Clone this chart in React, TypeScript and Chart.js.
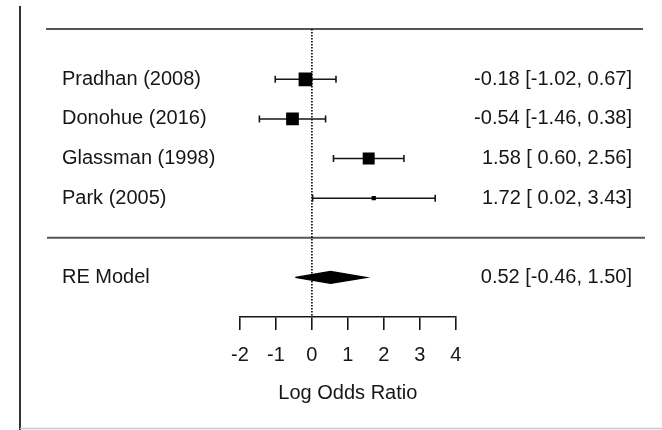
import React, { useEffect, useRef } from 'react';
import { Chart, registerables } from 'chart.js';

Chart.register(...registerables);

// ---- data ----
const studies = ['Pradhan (2008)', 'Donohue (2016)', 'Glassman (1998)', 'Park (2005)'];
const estimates = [-0.18, -0.54, 1.58, 1.72];
const lowers = [-1.02, -1.46, 0.6, 0.02];
const uppers = [0.67, 0.38, 2.56, 3.43];
const weights = [28.6, 27.5, 26.6, 17.3];
const studyRows = [1, 2, 3, 4];

const summaryLabel = 'RE Model';
const summaryEstimate = 0.52;
const summaryLower = -0.46;
const summaryUpper = 1.5;
const summaryRow = 6;
const separatorRow = 5;

const xTicks = [-2, -1, 0, 1, 2, 3, 4];
const xTitle = 'Log Odds Ratio';
const Y_TOP = -0.27;
const Y_AXIS = 7;

// ---- styles ----
const FONT = "'Liberation Sans', Arial, Helvetica, sans-serif";
const INK = '#161616';
const DIAMOND_HALF = 0.15;

const fmt = (est: number, lo: number, hi: number) =>
  `${est.toFixed(2)} [${lo >= 0 ? ' ' : ''}${lo.toFixed(2)}, ${hi.toFixed(2)}]`;

const minW = Math.min(...weights);
const maxW = Math.max(...weights);
const squareRadius = weights.map((w) => {
  const psize = 0.45 + (w - minW) / (maxW - minW);
  return (psize * 9.4) / Math.SQRT2;
});

const decorPlugin = {
  id: 'forestDecor',
  beforeDatasetsDraw(chart: any) {
    const ctx = chart.ctx;
    const y = chart.scales.y;
    ctx.save();
    // frame pieces of the screenshot
    ctx.strokeStyle = '#333';
    ctx.lineWidth = 2;
    ctx.beginPath();
    ctx.moveTo(20, 6);
    ctx.lineTo(20, 430);
    ctx.stroke();
    ctx.strokeStyle = '#c8c8c8';
    ctx.lineWidth = 1.5;
    ctx.beginPath();
    ctx.moveTo(20, 428.5);
    ctx.lineTo(662, 428.5);
    ctx.stroke();
    // horizontal rules
    ctx.strokeStyle = '#555';
    ctx.lineWidth = 2;
    const topY = y.getPixelForValue(Y_TOP);
    const sepY = y.getPixelForValue(separatorRow);
    ctx.beginPath();
    ctx.moveTo(46, topY);
    ctx.lineTo(643, topY);
    ctx.moveTo(47, sepY);
    ctx.lineTo(645, sepY);
    ctx.stroke();
    ctx.restore();
  },
  afterDraw(chart: any) {
    const ctx = chart.ctx;
    const y = chart.scales.y;
    ctx.save();
    ctx.fillStyle = INK;
    ctx.font = `20px ${FONT}`;
    ctx.textBaseline = 'middle';
    studies.forEach((s, i) => {
      const py = y.getPixelForValue(studyRows[i]);
      ctx.textAlign = 'left';
      ctx.fillText(s, 62, py);
      ctx.textAlign = 'right';
      ctx.fillText(fmt(estimates[i], lowers[i], uppers[i]), 632, py);
    });
    const sy = y.getPixelForValue(summaryRow);
    ctx.textAlign = 'left';
    ctx.fillText(summaryLabel, 62, sy);
    ctx.textAlign = 'right';
    ctx.fillText(fmt(summaryEstimate, summaryLower, summaryUpper), 632, sy);
    ctx.restore();
  },
};

export default function App() {
  const ref = useRef<HTMLCanvasElement>(null);

  useEffect(() => {
    if (!ref.current) return;
    Chart.defaults.font.family = FONT;
    const ciSets = studies.map((s, i) => ({
      label: s + ' CI',
      data: [
        { x: lowers[i], y: studyRows[i] },
        { x: uppers[i], y: studyRows[i] },
      ],
      showLine: true,
      borderColor: INK,
      borderWidth: 1.5,
      pointStyle: 'line',
      rotation: 90,
      pointRadius: 3.5,
      pointBorderColor: INK,
      pointBorderWidth: 1.6,
      order: 2,
    }));
    const chart = new Chart(ref.current, {
      type: 'scatter',
      data: {
        datasets: [
          {
            label: 'Estimates',
            data: studies.map((_, i) => ({ x: estimates[i], y: studyRows[i] })),
            pointStyle: 'rect',
            pointRadius: squareRadius,
            backgroundColor: '#000',
            borderColor: '#000',
            pointBorderWidth: 0,
            order: 0,
          } as any,
          ...ciSets,
          {
            type: 'line',
            label: 'Summary',
            data: [
              { x: summaryLower, y: summaryRow },
              { x: summaryEstimate, y: summaryRow - DIAMOND_HALF },
              { x: summaryUpper, y: summaryRow },
              { x: summaryEstimate, y: summaryRow + DIAMOND_HALF },
              { x: summaryLower, y: summaryRow },
            ],
            fill: 'shape',
            backgroundColor: '#000',
            borderColor: '#000',
            borderWidth: 1.5,
            pointRadius: 0,
            tension: 0,
            order: 1,
          } as any,
          {
            label: 'Zero',
            data: [
              { x: 0, y: Y_TOP },
              { x: 0, y: Y_AXIS },
            ],
            showLine: true,
            borderColor: '#000',
            borderWidth: 1.6,
            borderDash: [1.5, 1.5],
            pointRadius: 0,
            order: 3,
          } as any,
        ],
      },
      options: {
        responsive: false,
        animation: false,
        events: [],
        layout: { padding: { left: 240, right: 206.3, top: 29, bottom: 25 } },
        plugins: { legend: { display: false }, tooltip: { enabled: false } },
        scales: {
          x: {
            type: 'linear',
            position: 'bottom',
            min: -2,
            max: 4,
            afterBuildTicks: (scale: any) => {
              scale.ticks = xTicks.map((v) => ({ value: v }));
            },
            ticks: {
              color: INK,
              font: { size: 20, family: FONT },
              padding: 13,
              maxRotation: 0,
              autoSkip: false,
            },
            grid: {
              drawOnChartArea: false,
              drawTicks: true,
              tickLength: 13,
              color: INK,
              lineWidth: 1.6,
            },
            border: { display: true, color: INK, width: 1.6 },
            title: {
              display: true,
              text: xTitle,
              color: INK,
              font: { size: 20, family: FONT },
              padding: { top: 1, bottom: 0 },
            },
          },
          y: {
            type: 'linear',
            display: false,
            reverse: true,
            min: Y_TOP,
            max: Y_AXIS,
          },
        },
      },
      plugins: [decorPlugin],
    } as any);
    return () => chart.destroy();
  }, []);

  return (
    <div style={{ position: 'absolute', left: 0, top: 0, width: 662, height: 430, background: '#fff' }}>
      <canvas ref={ref} width={662} height={430} style={{ display: 'block' }} />
    </div>
  );
}
